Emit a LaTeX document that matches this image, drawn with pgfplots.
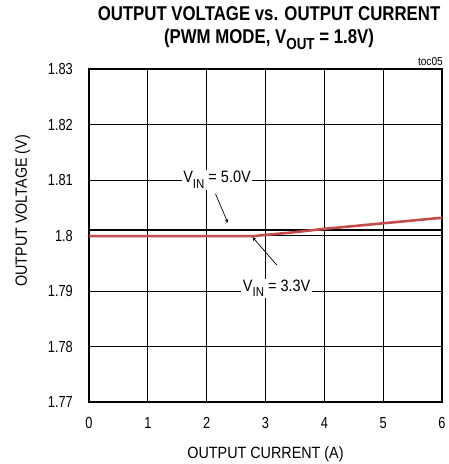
\documentclass[border=0pt]{standalone}
\usepackage{pgfplots}
\pgfplotsset{compat=1.18}
\usepackage{fontspec}
\setmainfont{Liberation Sans}[FakeStretch=0.88]
\newfontfamily\titlefont{Liberation Sans}[FakeStretch=0.84]
\newfontfamily\tickfont{Liberation Sans}[FakeStretch=0.8]
\definecolor{redline}{RGB}{196,76,74}
\newcommand{\sub}[1]{\raisebox{-0.32em}{\fontsize{13}{13}\selectfont #1}}
\begin{document}
\begin{tikzpicture}
\begin{axis}[
  name=ax,
  scale only axis,
  width=353pt, height=333pt,
  xmin=0, xmax=6, ymin=1.77, ymax=1.83,
  xtick={0,1,2,3,4,5,6},
  ytick={1.77,1.78,1.79,1.8,1.81,1.82,1.83},
  yticklabels={1.77,1.78,1.79,1.8,1.81,1.82,1.83},
  xticklabels={0,1,2,3,4,5,6},
  major tick length=0pt,
  grid=major,
  grid style={black, line width=0.8pt},
  axis line style={line width=2.4pt},
  /pgf/number format/assume math mode=true,
  tick label style={font=\tickfont\fontsize{16}{18}\selectfont, inner sep=0pt},
  yticklabel style={anchor=east, xshift=-16pt},
  xticklabel style={anchor=north, yshift=-15.5pt},
  clip=false,
]
\addplot[black, line width=2.6pt] coordinates {(0,1.8010) (6,1.8010)};
\addplot[redline, line width=2.6pt] coordinates {
(0,1.7999) (1,1.7999) (2,1.7999) (2.8,1.7999) (3.0,1.8001) (3.5,1.8006) (4,1.8012) (4.5,1.8017) (5,1.8022) (5.5,1.8027) (6,1.8032)};
\node[fill=white, inner sep=1.5pt, anchor=base, font=\fontsize{16.5}{18}\selectfont] at (axis cs:2.177,1.80946) {V\sub{IN} = 5.0V};
\draw[-stealth, line width=0.7pt] (axis cs:2.15,1.8075) -- (axis cs:2.36,1.8023);
\node[fill=white, inner sep=1.5pt, anchor=base, font=\fontsize{16.5}{18}\selectfont] at (axis cs:3.19,1.7899) {V\sub{IN} = 3.3V};
\draw[-stealth, line width=0.7pt] (axis cs:3.19,1.7947) -- (axis cs:2.78,1.7997);
\node[anchor=base east, font=\fontsize{11.5}{13}\selectfont, inner sep=0pt] at ([xshift=1pt,yshift=4pt]rel axis cs:1,1) {toc05};
\node[anchor=base, inner sep=0pt, font=\titlefont\bfseries\fontsize{20}{23}\selectfont] at ([yshift=48pt]rel axis cs:0.51,1) {OUTPUT VOLTAGE vs. OUTPUT CURRENT};
\node[anchor=base, inner sep=0pt, font=\titlefont\bfseries\fontsize{20}{23}\selectfont] at ([yshift=25.5pt]rel axis cs:0.51,1) {(PWM MODE, V\raisebox{-0.3em}{\fontsize{16}{16}\selectfont OUT} = 1.8V)};
\node[anchor=base, inner sep=0pt, font=\fontsize{16.3}{18}\selectfont] at ([yshift=-56pt]rel axis cs:0.5,0) {OUTPUT CURRENT (A)};
\node[anchor=base, rotate=90, inner sep=0pt, font=\fontsize{16.3}{18}\selectfont] at ([xshift=-62pt]rel axis cs:0,0.574) {OUTPUT VOLTAGE (V)};
\end{axis}
\pgfresetboundingbox
\path ([xshift=-89pt,yshift=-62pt]ax.south west) rectangle ([xshift=6pt,yshift=69pt]ax.north east);
\end{tikzpicture}
\end{document}
